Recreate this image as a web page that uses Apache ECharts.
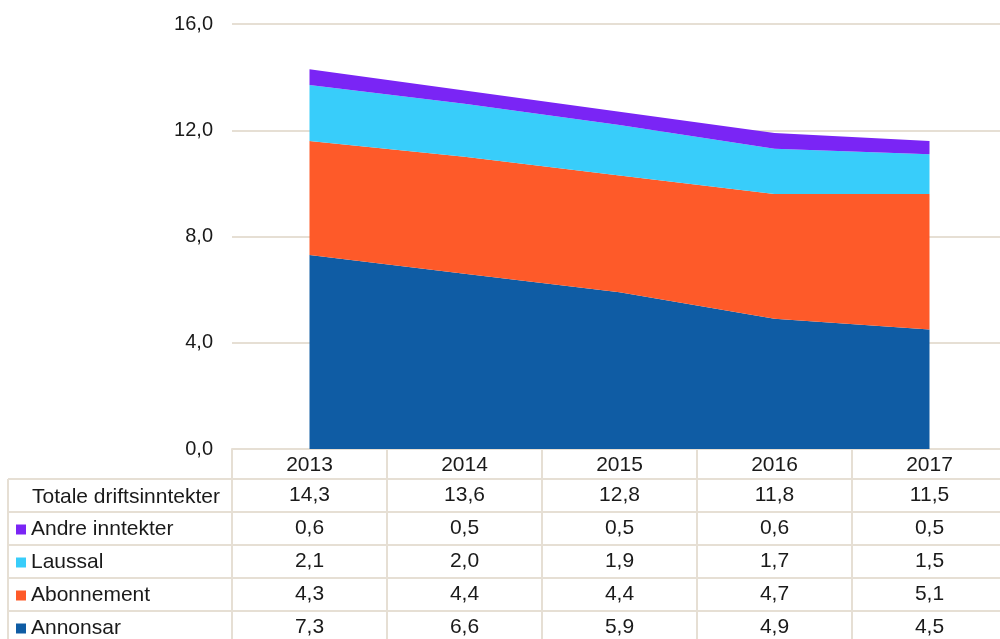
<!DOCTYPE html>
<html lang="no">
<head>
<meta charset="UTF-8">
<title>Driftsinntekter</title>
<style>
  html, body { margin: 0; padding: 0; background: #fff; }
  #main { width: 1000px; height: 639px; }
</style>
</head>
<body>
<div id="main"></div>
<script src="https://cdn.jsdelivr.net/npm/echarts@6/dist/echarts.min.js"></script>
<script>
  var years = ["2013", "2014", "2015", "2016", "2017"];
  var annonsar = [7.3, 6.6, 5.9, 4.9, 4.5];
  var abonnement = [4.3, 4.4, 4.4, 4.7, 5.1];
  var laussal = [2.1, 2.0, 1.9, 1.7, 1.5];
  var andre = [0.6, 0.5, 0.5, 0.6, 0.5];
  var totale = [14.3, 13.6, 12.8, 11.8, 11.5];

  var border = "#e6dfd4";
  var txt = "#1a1a1a";
  var font = "'Liberation Sans', Arial, sans-serif";

  function fmt(v) { return v.toFixed(1).replace(".", ","); }

  // table rows under the chart, top to bottom
  var rows = [totale, andre, laussal, abonnement, annonsar];
  var rowOffsets = [30, 63, 96, 129, 162];

  var xAxes = [{
    type: "category",
    data: years,
    position: "bottom",
    axisLine: { lineStyle: { color: border, width: 2 } },
    axisTick: { show: true, length: 200, lineStyle: { color: border, width: 2 } },
    axisLabel: { color: txt, fontSize: 21, fontFamily: font, margin: 6, lineHeight: 21 }
  }];
  rows.forEach(function (r, k) {
    xAxes.push({
      type: "category",
      data: years,
      position: "bottom",
      offset: rowOffsets[k],
      axisLine: { show: false },
      axisTick: { show: false },
      splitLine: { show: false },
      axisLabel: {
        color: txt, fontSize: 21, fontFamily: font, margin: 6, lineHeight: 21,
        formatter: function (val, idx) { return fmt(r[idx]); }
      }
    });
  });

  function area(name, data, color) {
    return {
      name: name,
      type: "line",
      stack: "sum",
      data: data,
      symbol: "none",
      lineStyle: { width: 0 },
      itemStyle: { color: color },
      areaStyle: { color: color, opacity: 1 },
      emphasis: { disabled: true }
    };
  }

  var hlines = [479, 512, 545, 578, 611].map(function (y) {
    return { type: "line", shape: { x1: 8, y1: y, x2: 1000, y2: y }, style: { stroke: border, lineWidth: 2 } };
  });

  var chart = echarts.init(document.getElementById("main"));
  chart.setOption({
    animation: false,
    grid: { left: 232, width: 775, top: 24, bottom: 190, containLabel: false, outerBoundsMode: "none" },
    xAxis: xAxes,
    yAxis: {
      type: "value",
      min: 0, max: 16, interval: 4,
      axisLine: { show: false },
      axisTick: { show: false },
      splitLine: { lineStyle: { color: border, width: 2 } },
      axisLabel: { color: txt, fontSize: 20, fontFamily: font, margin: 19, formatter: fmt }
    },
    legend: {
      orient: "vertical",
      left: 16,
      top: 519,
      padding: 0,
      itemGap: 12,
      itemWidth: 10,
      itemHeight: 10,
      icon: "rect",
      selectedMode: false,
      data: ["Andre inntekter", "Laussal", "Abonnement", "Annonsar"],
      textStyle: { color: txt, fontSize: 21, fontFamily: font, lineHeight: 21 }
    },
    graphic: hlines.concat([
      { type: "line", shape: { x1: 8, y1: 479, x2: 8, y2: 639 }, style: { stroke: border, lineWidth: 2 } },
      { type: "text", left: 32, top: 487, style: { text: "Totale driftsinntekter", fill: txt, fontSize: 21, fontFamily: font } }
    ]),
    series: [
      area("Annonsar", annonsar, "#0f5ca4"),
      area("Abonnement", abonnement, "#fe5a29"),
      area("Laussal", laussal, "#38cdfa"),
      area("Andre inntekter", andre, "#7a25f5")
    ]
  });
  window.addEventListener("resize", function () { chart.resize(); });
</script>
</body>
</html>
